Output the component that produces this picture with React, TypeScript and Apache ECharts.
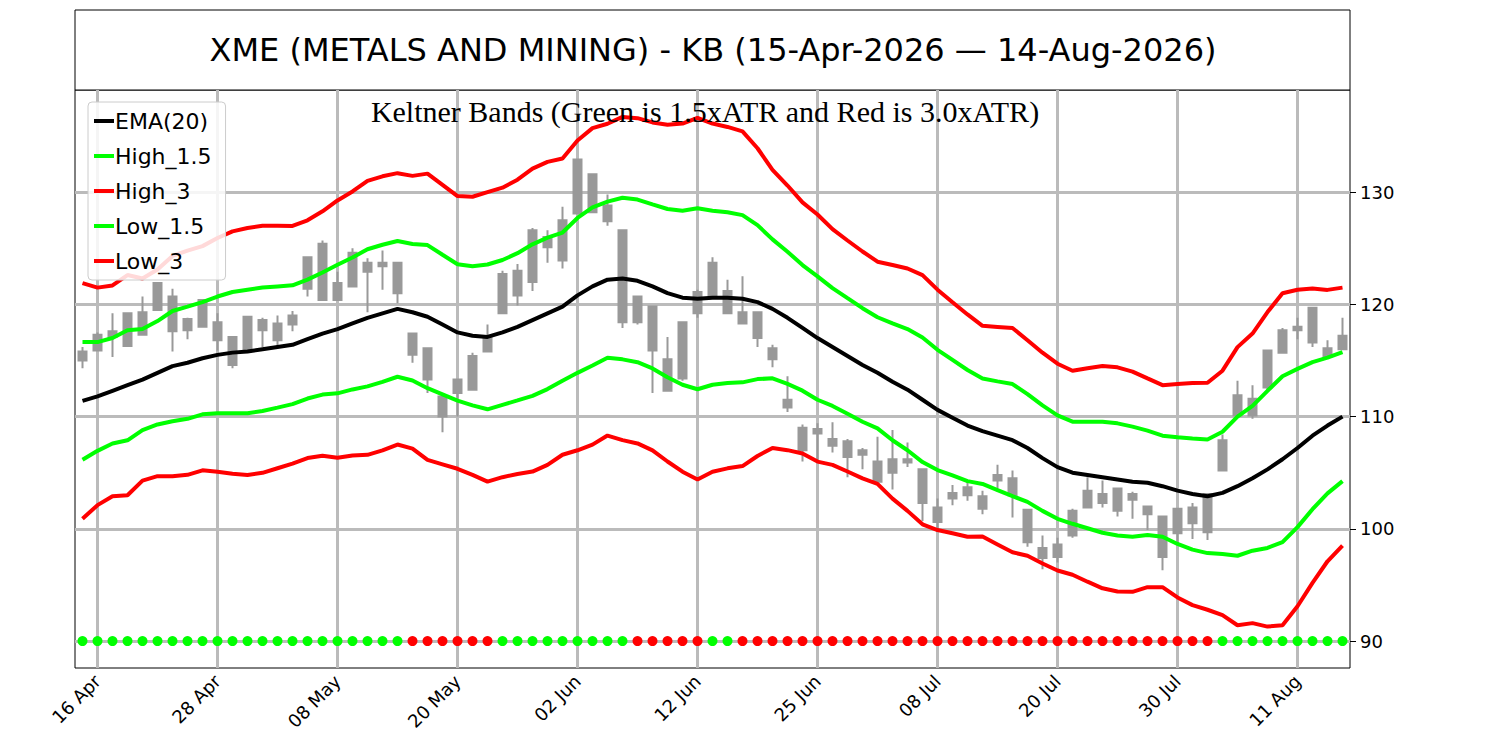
import React, { useEffect, useRef } from "react";
import * as echarts from "echarts";

// trading days, 15 Apr 2026 - 14 Aug 2026
const months: [string, number[]][] = [
  ["Apr", [15, 16, 17, 20, 21, 22, 23, 24, 27, 28, 29, 30]],
  ["May", [1, 4, 5, 6, 7, 8, 11, 12, 13, 14, 15, 18, 19, 20, 21, 22, 26, 27, 28, 29]],
  ["Jun", [1, 2, 3, 4, 5, 8, 9, 10, 11, 12, 15, 16, 17, 18, 22, 23, 24, 25, 26, 29, 30]],
  ["Jul", [1, 2, 6, 7, 8, 9, 10, 13, 14, 15, 16, 17, 20, 21, 22, 23, 24, 27, 28, 29, 30, 31]],
  ["Aug", [3, 4, 5, 6, 7, 10, 11, 12, 13, 14]],
];
const dates: string[] = months.flatMap(([m, ds]) => ds.map((d) => String(d).padStart(2, "0") + " " + m));
const labelDays = ["16 Apr", "28 Apr", "08 May", "20 May", "02 Jun", "12 Jun", "25 Jun", "08 Jul", "20 Jul", "30 Jul", "11 Aug"];

// candle bodies and wicks: [bodyLow, bodyHigh, low, high]
const candles: number[][] = [
  [115.0, 115.8, 114.3, 116.2], [115.9, 117.3, 115.8, 117.5], [117.1, 117.6, 115.3, 119.2], [116.3, 119.2, 116.3, 119.2],
  [117.3, 119.3, 117.3, 120.7], [119.5, 121.9, 119.5, 121.9], [117.6, 120.7, 115.8, 121.4], [117.7, 118.7, 116.9, 118.8],
  [118.0, 120.4, 118.0, 120.4], [116.8, 118.4, 115.9, 119.2], [114.6, 117.1, 114.3, 117.1], [115.9, 118.9, 115.9, 118.9],
  [117.7, 118.6, 116.2, 118.8], [116.8, 118.3, 116.2, 119.0], [118.2, 119.0, 117.6, 119.4], [121.4, 124.2, 120.7, 124.2],
  [120.4, 125.4, 120.4, 125.7], [120.4, 121.9, 120.4, 122.9], [121.6, 124.6, 121.6, 125.0], [122.9, 123.7, 119.3, 124.1],
  [123.4, 123.7, 121.3, 124.8], [121.0, 123.7, 120.1, 123.7], [115.5, 117.4, 114.8, 117.4], [113.3, 116.1, 112.1, 116.1],
  [110.0, 111.8, 108.6, 112.1], [112.1, 113.3, 110.0, 113.3], [112.4, 115.4, 112.4, 115.7], [115.8, 117.1, 115.8, 118.2],
  [119.2, 122.7, 119.2, 123.0], [120.8, 123.0, 119.9, 123.6], [122.0, 126.6, 121.2, 126.8], [125.1, 126.0, 123.7, 126.6],
  [123.9, 127.5, 123.2, 128.7], [128.1, 132.9, 128.1, 132.9], [128.2, 131.6, 128.2, 131.6], [127.4, 128.8, 127.0, 129.8],
  [118.4, 126.6, 117.9, 126.6], [118.4, 120.7, 118.2, 120.7], [115.9, 119.8, 112.1, 119.8], [112.3, 115.1, 112.3, 117.1],
  [113.4, 118.4, 113.2, 118.4], [119.2, 121.1, 118.8, 121.3], [120.7, 123.7, 120.7, 124.2], [119.2, 121.2, 119.2, 122.2],
  [118.3, 119.3, 118.3, 122.5], [117.0, 119.3, 116.2, 119.3], [115.1, 116.1, 114.4, 116.4], [110.8, 111.5, 110.4, 113.6],
  [107.0, 109.0, 106.0, 109.3], [108.5, 108.9, 105.9, 109.4], [107.4, 108.0, 106.8, 109.5], [106.4, 107.8, 104.6, 108.0],
  [106.6, 107.0, 105.3, 107.2], [104.2, 106.0, 104.2, 108.2], [105.0, 106.2, 103.5, 108.8], [105.9, 106.2, 105.5, 107.7],
  [102.3, 105.3, 100.7, 105.3], [100.6, 101.9, 99.9, 102.7], [102.7, 103.2, 102.1, 103.9], [103.0, 103.7, 102.5, 104.2],
  [101.8, 102.9, 101.3, 103.4], [104.3, 104.8, 103.3, 105.7], [103.0, 104.5, 101.0, 105.2], [98.8, 101.7, 98.4, 101.7],
  [97.4, 98.3, 96.4, 99.4], [97.5, 98.6, 97.0, 99.2], [99.4, 101.6, 99.2, 101.8], [101.9, 103.4, 101.9, 104.6],
  [102.3, 103.1, 101.9, 104.3], [101.6, 103.6, 101.1, 103.6], [102.6, 103.1, 100.9, 103.3], [101.3, 102.0, 99.9, 102.0],
  [97.5, 101.1, 96.3, 101.1], [99.6, 101.8, 98.6, 101.8], [100.5, 101.9, 99.1, 102.3], [99.7, 103.1, 99.0, 103.1],
  [105.2, 107.9, 105.2, 108.4], [110.1, 111.9, 110.1, 113.2], [110.1, 111.6, 109.8, 112.8], [112.6, 115.9, 112.4, 115.9],
  [115.7, 117.7, 115.7, 117.9], [117.7, 118.0, 116.9, 118.8], [116.6, 119.7, 116.2, 119.7], [115.3, 116.1, 115.3, 116.8],
  [116.0, 117.2, 116.0, 118.8],
];

const ema20: number[] = [
  111.4, 111.8, 112.3, 112.8, 113.3, 113.9, 114.5, 114.8, 115.2, 115.5, 115.7, 115.8, 116.0, 116.2, 116.4, 116.9,
  117.4, 117.8, 118.3, 118.8, 119.2, 119.6, 119.3, 118.9, 118.2, 117.5, 117.2, 117.1, 117.5, 118.0, 118.6, 119.2,
  119.8, 120.8, 121.6, 122.2, 122.3, 122.1, 121.6, 121.0, 120.6, 120.5, 120.6, 120.6, 120.5, 120.2, 119.6, 118.8,
  117.9, 117.0, 116.2, 115.4, 114.6, 113.9, 113.1, 112.4, 111.5, 110.6, 109.9, 109.2, 108.7, 108.3, 107.9, 107.2,
  106.3, 105.5, 105.0, 104.8, 104.6, 104.4, 104.2, 104.1, 103.8, 103.4, 103.1, 102.9, 103.2, 103.8, 104.5, 105.3,
  106.2, 107.2, 108.3, 109.2, 110.0,
];

const atr: number[] = [
  3.5, 3.23, 3.13, 3.27, 3.0, 3.07, 3.27, 3.33, 3.33, 3.47, 3.6, 3.67, 3.67, 3.6, 3.53, 3.53,
  3.63, 3.82, 3.92, 4.07, 4.07, 4.03, 4.05, 4.25, 4.15, 4.05, 4.13, 4.3, 4.3, 4.37, 4.5, 4.5,
  4.4, 4.6, 4.7, 4.63, 4.8, 4.83, 4.87, 5.0, 5.17, 5.37, 5.17, 5.07, 4.97, 4.57, 4.13, 3.93,
  3.73, 3.67, 3.5, 3.43, 3.37, 3.3, 3.47, 3.6, 3.7, 3.57, 3.43, 3.3, 3.13, 3.23, 3.33, 3.2,
  3.13, 3.07, 3.03, 3.17, 3.3, 3.33, 3.27, 3.1, 3.0, 3.17, 3.3, 3.37, 3.63, 4.13, 4.3, 4.67,
  4.93, 4.7, 4.37, 4.03, 3.83,
];

// 1 = squeeze off (green), 0 = on (red)
const squeeze: number[] = [
  1, 1, 1, 1, 1, 1, 1, 1, 1, 1, 1, 1, 1, 1, 1, 1, 1, 1, 1, 1, 1, 1, 0, 0, 0, 0, 0, 0, 1, 1, 1, 1,
  1, 1, 1, 1, 1, 0, 0, 0, 0, 0, 1, 1, 0, 0, 0, 0, 0, 0, 0, 0, 0, 0, 0, 0, 0, 0, 0, 0, 0, 0, 0, 0,
  0, 0, 0, 0, 0, 0, 0, 0, 0, 0, 0, 0, 1, 1, 1, 1, 1, 1, 1, 1, 1,
];

const yTicks = [90, 100, 110, 120, 130];

const band = (k: number) => ema20.map((e, i) => +(e + k * atr[i]).toFixed(2));

const App: React.FC = () => {
  const chartRef = useRef<HTMLDivElement>(null);

  useEffect(() => {
    if (!chartRef.current) return;
    const chart = echarts.init(chartRef.current, undefined, { renderer: "svg" });
    const font = "DejaVu Sans";
    const line = (name: string, data: number[], color: string) => ({
      name, type: "line", data, symbol: "none", z: 3,
      lineStyle: { color, width: 4 }, itemStyle: { color },
    });
    const labelIdx = labelDays.map((d) => dates.indexOf(d));

    const option: echarts.EChartsOption = {
      animation: false,
      textStyle: { fontFamily: font },
      grid: { left: 75, right: 150, top: 90, bottom: 82, show: true, borderColor: "#000", borderWidth: 1 },
      graphic: [
        { type: "rect", shape: { x: 75, y: 10, width: 1275, height: 80 }, style: { fill: "#fff", stroke: "#000", lineWidth: 1 } },
        {
          type: "text", x: 713, y: 50,
          style: { text: "XME (METALS AND MINING) - KB (15-Apr-2026 — 14-Aug-2026)", font: `32px ${font}`, fill: "#000", align: "center", verticalAlign: "middle" },
        },
        {
          type: "text", x: 705, y: 111, z: 20,
          style: { text: "Keltner Bands (Green is 1.5xATR and Red is 3.0xATR)", font: "30px 'Liberation Serif'", fill: "#000", align: "center", verticalAlign: "middle" },
        },
      ],
      legend: {
        left: 88, top: 102, orient: "vertical", itemWidth: 20, itemHeight: 4, itemGap: 13,
        padding: [8, 14, 8, 6], z: 10,
        backgroundColor: "rgba(255,255,255,0.85)", borderColor: "#ccc", borderWidth: 1, borderRadius: 4,
        textStyle: { fontSize: 22, fontFamily: font, color: "#000", padding: [0, 0, 0, -4] },
        icon: "rect",
        data: ["EMA(20)", "High_1.5", "High_3", "Low_1.5", "Low_3"],
      },
      xAxis: {
        type: "category", data: dates, boundaryGap: true,
        axisLine: { show: false },
        axisTick: { interval: (i: number) => labelIdx.includes(i), alignWithLabel: true, length: 6, lineStyle: { color: "#000" } },
        axisLabel: { interval: (i: number) => labelIdx.includes(i), rotate: 45, fontSize: 18, color: "#000", margin: 10 },
        splitLine: { show: false },
      },
      yAxis: {
        type: "value", position: "right", min: 87.6, max: 139.1, scale: true,
        axisLine: { show: false },
        axisTick: { show: true, customValues: yTicks, length: 6, lineStyle: { color: "#000" } },
        axisLabel: { customValues: yTicks, fontSize: 18, color: "#000", margin: 10 },
        splitLine: { show: false },
      },
      series: [
        {
          name: "grid", type: "line", data: [], silent: true, z: 0,
          markLine: {
            symbol: "none", silent: true, label: { show: false }, z: 0,
            lineStyle: { color: "#bbb", width: 3, type: "solid" },
            data: [
              ...yTicks.map((v) => ({ yAxis: v })),
              ...labelDays.map((d) => ({ xAxis: d })),
            ],
          },
        },
        {
          name: "price", type: "candlestick", barWidth: 8, z: 2,
          data: candles,
          itemStyle: { color: "#999", color0: "#999", borderColor: "#999", borderColor0: "#999", borderWidth: 2 },
        },
        line("EMA(20)", ema20, "#000"),
        line("High_1.5", band(1.5), "#00ff00"),
        line("High_3", band(3), "#ff0000"),
        line("Low_1.5", band(-1.5), "#00ff00"),
        line("Low_3", band(-3), "#ff0000"),
        {
          name: "squeeze", type: "scatter", symbolSize: 10, z: 5,
          data: squeeze.map((s) => ({ value: 90, itemStyle: { color: s ? "#00ff00" : "#ff0000", opacity: 1 } })),
        },
      ],
    };

    chart.setOption(option);
    return () => chart.dispose();
  }, []);

  return <div ref={chartRef} style={{ width: 1500, height: 750, margin: -8 }} />;
};

export default App;
